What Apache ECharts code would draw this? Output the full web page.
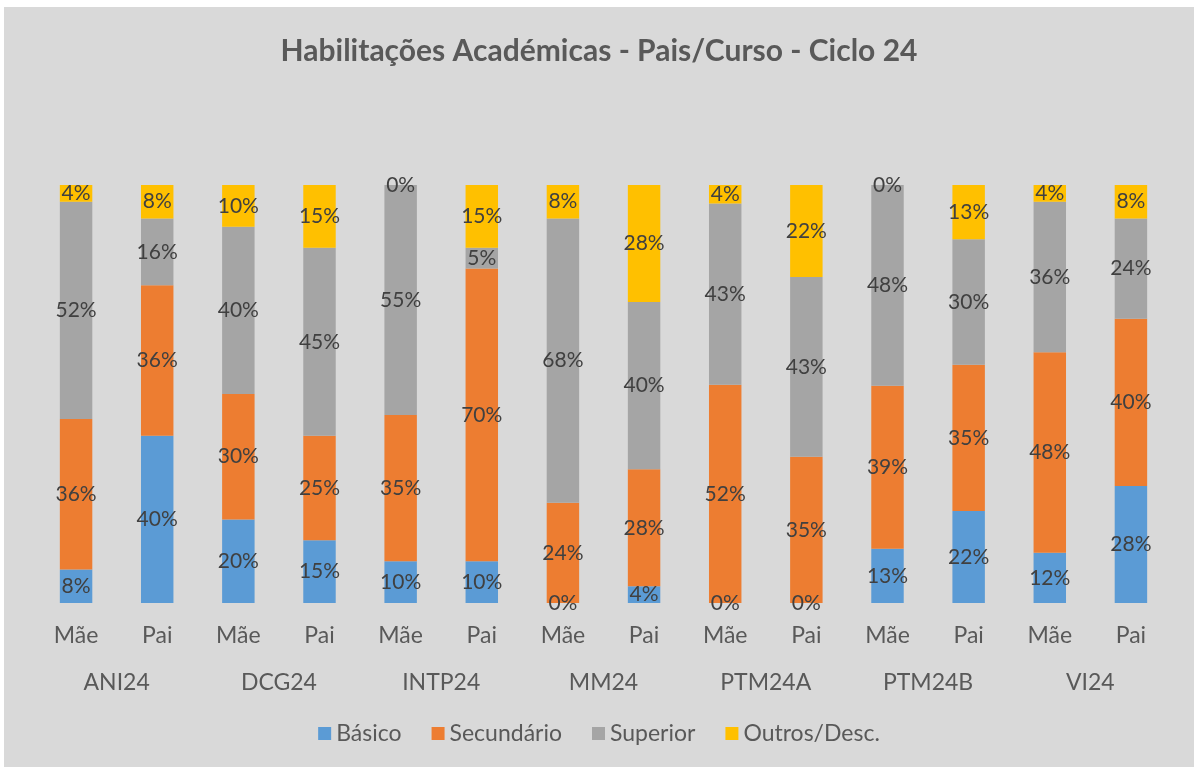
<!DOCTYPE html>
<html>
<head>
<meta charset="utf-8">
<script src="https://cdn.jsdelivr.net/npm/echarts@6/dist/echarts.min.js"></script>
<style>
html,body{margin:0;padding:0;background:#ffffff;}
#c{position:absolute;left:4px;top:7px;width:1190px;height:760px;background:#d9d9d9;}
</style>
</head>
<body>
<div id="c"></div>
<script>
const groups = ['ANI24','DCG24','INTP24','MM24','PTM24A','PTM24B','VI24'];
const parents = ['Mãe','Pai','Mãe','Pai','Mãe','Pai','Mãe','Pai','Mãe','Pai','Mãe','Pai','Mãe','Pai'];
const seriesNames = ['Básico','Secundário','Superior','Outros/Desc.'];
const basico     = [8, 40, 20, 15, 10, 10, 0, 4, 0, 0, 13, 22, 12, 28];
const secundario = [36, 36, 30, 25, 35, 70, 24, 28, 52.2, 35, 39, 35, 48, 40];
const superior   = [52, 16, 40, 45, 55, 5, 68, 40, 43.4, 43, 48, 30, 36, 24];
const outros     = [4, 8, 10, 15, 0, 15, 8, 28, 4.4, 22, 0, 13, 4, 8];
const colors = ['#5b9bd5','#ed7d31','#a5a5a5','#ffc000'];

const FONT = 'Lato';
const chart = echarts.init(document.getElementById('c'), null, {renderer:'canvas'});
const values = [basico, secundario, superior, outros];
chart.setOption({
  animation: false,
  backgroundColor: '#d9d9d9',
  title: {
    text: 'Habilitações Académicas - Pais/Curso - Ciclo 24',
    left: 'center', top: 24,
    textStyle: {fontFamily: FONT, fontSize: 30, fontWeight: 'bold', color: '#595959'}
  },
  legend: {
    bottom: 17, left: 'center',
    icon: 'rect', itemWidth: 13, itemHeight: 13, itemGap: 30,
    textStyle: {fontFamily: FONT, fontSize: 23, color: '#595959'},
    data: seriesNames
  },
  grid: {left: 31.5, right: 22.5, top: 178, bottom: 164},
  xAxis: [
    {type: 'category', data: parents, position: 'bottom',
     axisLine: {show: false}, axisTick: {show: false},
     axisLabel: {fontFamily: FONT, fontSize: 23, color: '#595959', margin: 21}},
    {type: 'category', data: groups, position: 'bottom', offset: 47,
     axisLine: {show: false}, axisTick: {show: false},
     axisLabel: {fontFamily: FONT, fontSize: 23, color: '#595959', margin: 21}}
  ],
  yAxis: {type: 'value', min: 0, max: 100, show: false, splitLine: {show: false}},
  series: seriesNames.map((n, i) => ({
    name: n, type: 'bar', stack: 'total', xAxisIndex: 0, barWidth: '40%',
    itemStyle: {color: colors[i]},
    label: {show: true, position: 'inside', fontFamily: FONT, fontSize: 21, color: '#404040',
            formatter: p => Math.round(p.value) + '%'},
    data: values[i]
  }))
});
</script>
</body>
</html>
